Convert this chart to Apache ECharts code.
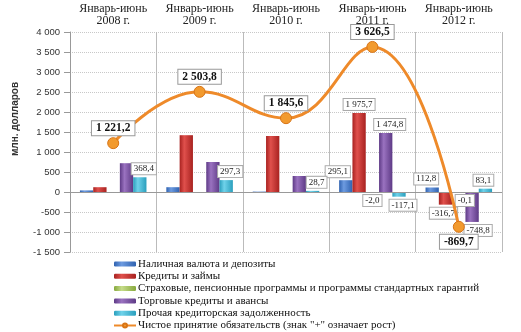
<!DOCTYPE html>
<html><head><meta charset="utf-8">
<script src="https://cdn.jsdelivr.net/npm/echarts@6/dist/echarts.min.js"></script>
<style>html,body{margin:0;padding:0;background:#fff}#c{width:521px;height:332px}</style>
</head><body><div id="c"></div>
<script>
const categories = ['Январь-июнь\n2008 г.', 'Январь-июнь\n2009 г.', 'Январь-июнь\n2010 г.', 'Январь-июнь\n2011 г.', 'Январь-июнь\n2012 г.'];
const seriesNames = [
  'Наличная валюта и депозиты',
  'Кредиты и займы',
  'Страховые, пенсионные программы и программы стандартных гарантий',
  'Торговые кредиты и авансы',
  'Прочая кредиторская задолженность'
];
const lineName = 'Чистое принятие обязательств (знак "+" означает рост)';
const cashDeposits = [40, 120, 10, 295.1, 112.8];
const loans = [120, 1420, 1400, 1975.7, -316.7];
const insurance = [0, 0, 0, -2.0, -0.1];
const tradeCredits = [720, 750, 400, 1474.8, -748.8];
const otherPayables = [368.4, 297.3, 28.7, -117.1, 83.1];
const netLiabilities = [1221.2, 2503.8, 1845.6, 3626.5, -869.7];
const yTicks = [-1500, -1000, -500, 0, 500, 1000, 1500, 2000, 2500, 3000, 3500, 4000];

// which bars carry a value label (per series, per category) and their placement
const labelShown = [
  [false, false, false, true, true],
  [false, false, false, true, true],
  [false, false, false, true, true],
  [false, false, false, true, true],
  [true, true, true, true, true]
];
const labelOffsets = [
  [[0,0],[0,0],[0,0],[-8,0],[-6,0]],
  [[0,0],[0,0],[0,0],[0,0],[-2,0]],
  [[0,0],[0,0],[0,0],[0,0],[6,0]],
  [[0,0],[0,0],[0,0],[4,0],[6,0]],
  [[4,0],[4,0],[4,0],[4,0],[-2,0]]
];

function fmt(v, dec) {
  const neg = v < 0;
  let s = Math.abs(v).toFixed(dec);
  let [i, d] = s.split('.');
  i = i.replace(/\B(?=(\d{3})+(?!\d))/g, ' ');
  return (neg ? '-' : '') + i + (d !== undefined ? ',' + d : '');
}

const colors = [
  ['#6d9be0', '#2f62b0'],
  ['#e0504c', '#a82220'],
  ['#c6dc8a', '#86a83c'],
  ['#9a72c0', '#5e3a86'],
  ['#6fd2ea', '#2a9fbd']
];
const barValues = [cashDeposits, loans, insurance, tradeCredits, otherPayables];

const serif = 'Liberation Serif';
const sans = 'Liberation Sans';
const barSeries = barValues.map((vals, si) => ({
  name: seriesNames[si],
  type: 'bar',
  barGap: '0%',
  barCategoryGap: '23%',
  itemStyle: {
    color: new echarts.graphic.LinearGradient(0, 0, 1, 0, [
      {offset: 0, color: colors[si][1]},
      {offset: 0.35, color: colors[si][0]},
      {offset: 1, color: colors[si][1]}
    ])
  },
  data: vals.map((v, ci) => ({
    value: v,
    label: {
      show: labelShown[si][ci],
      position: v < 0 ? 'bottom' : 'top',
      offset: labelOffsets[si][ci],
      distance: 3,
      formatter: p => fmt(p.value, 1),
      fontFamily: serif, fontSize: 9, color: '#222',
      backgroundColor: '#fff', borderColor: '#aaa', borderWidth: 1,
      padding: [1, 2]
    }
  })),
  markLine: si === 0 ? {
    silent: true, symbol: 'none', label: {show: false},
    lineStyle: {color: '#999', type: 'solid', width: 1},
    data: [{yAxis: 0}]
  } : undefined,
  z: 2
}));

const lineSeries = {
  name: lineName,
  type: 'line',
  smooth: 0.45,
  symbol: 'circle',
  symbolSize: 11,
  lineStyle: {color: '#ee8a2a', width: 3},
  itemStyle: {color: '#f29a2e', borderColor: '#d87416', borderWidth: 1},
  data: netLiabilities.map(v => ({
    value: v,
    label: {
      show: true,
      position: v < 0 ? 'bottom' : 'top',
      distance: 2,
      formatter: p => fmt(p.value, 1),
      fontFamily: serif, fontSize: 11.5, fontWeight: 'bold', color: '#111',
      backgroundColor: '#fff', borderColor: '#999', borderWidth: 1,
      padding: [1, 4]
    }
  })),
  z: 5
};

const chart = echarts.init(document.getElementById('c'), null, {renderer: 'canvas'});
chart.setOption({
  animation: false,
  backgroundColor: '#fff',
  grid: {left: 70, right: 19, top: 32, bottom: 80, containLabel: false},
  legend: {
    orient: 'vertical', left: 113, top: 258, bottom: 0,
    itemWidth: 22, itemHeight: 5, itemGap: 0.3, padding: 0,
    textStyle: {fontFamily: serif, fontSize: 11, color: '#111', lineHeight: 12, padding: [0, 0, 0, -3]},
    data: seriesNames.concat([lineName])
  },
  xAxis: {
    type: 'category',
    position: 'top',
    data: categories,
    axisLine: {show: false},
    axisTick: {show: false},
    axisLabel: {interval: 0, fontFamily: serif, fontSize: 12, color: '#222', lineHeight: 12, margin: 5},
    splitLine: {show: true, interval: 0, lineStyle: {color: '#bbb', width: 1}}
  },
  yAxis: {
    type: 'value',
    min: -1500, max: 4000, interval: 500,
    axisLine: {show: true, lineStyle: {color: '#999'}},
    axisTick: {show: true, length: 6, lineStyle: {color: '#999'}},
    axisLabel: {fontFamily: sans, fontSize: 9.5, color: '#333', margin: 10,
      formatter: v => yTicks.indexOf(v) >= 0 ? fmt(v, 0) : ''},
    splitLine: {show: true, lineStyle: {color: '#c8c8c8', type: 'dotted', width: 1}}
  },
  graphic: [{
    type: 'text',
    x: 15, y: 119,
    rotation: Math.PI / 2,
    style: {text: 'млн. долларов', fontFamily: sans, fontSize: 10, fontWeight: 'bold', fill: '#333',
      textAlign: 'center', textVerticalAlign: 'middle'}
  }],
  series: barSeries.concat([lineSeries])
});
</script></body></html>
